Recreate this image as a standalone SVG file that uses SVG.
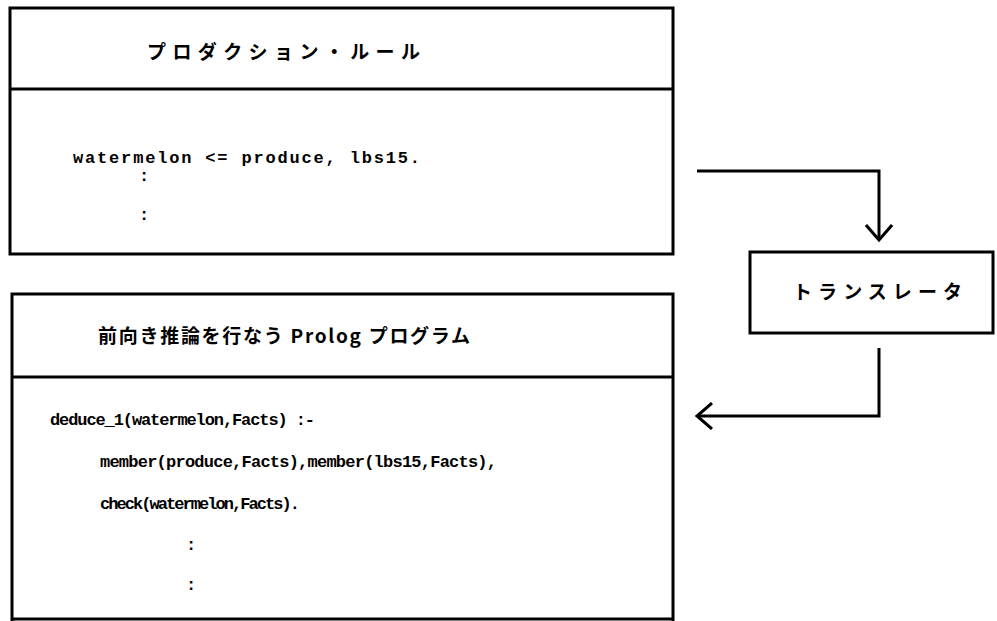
<svg xmlns="http://www.w3.org/2000/svg" width="997" height="621" viewBox="0 0 997 621">
<style>
.box{fill:none;stroke:#000;stroke-width:3}
.ln{fill:none;stroke:#000;stroke-width:3}
.jp{font-family:"Noto Sans CJK JP","Liberation Sans",sans-serif;font-size:19px;font-weight:bold;fill:#000}
.code{font-family:"Liberation Mono","DejaVu Sans Mono",monospace;font-size:17px;font-weight:bold;fill:#000}
</style>
<defs>
<marker id="open" viewBox="0 0 20 28" refX="17" refY="14" markerWidth="20" markerHeight="28" markerUnits="userSpaceOnUse" orient="auto">
<path d="M2,1 L17,14 L2,27" fill="none" stroke="#000" stroke-width="3"/>
</marker>
</defs>
<rect width="997" height="621" fill="#fff"/>
<g id="production-rules">
<rect class="box" x="10" y="8" width="663" height="246"/>
<line class="ln" x1="10" y1="89" x2="673" y2="89"/>
<text class="jp" x="147" y="59" textLength="273" lengthAdjust="spacing">プロダクション・ルール</text>
<text class="code" x="73" y="163" textLength="347" lengthAdjust="spacing">watermelon &lt;= produce, lbs15.</text>
<text class="code" x="139" y="181">:</text>
<text class="code" x="139" y="220">:</text>
</g>
<g id="translator">
<rect class="box" x="750" y="252" width="243" height="81"/>
<text class="jp" x="793" y="299" textLength="169" lengthAdjust="spacing">トランスレータ</text>
</g>
<g id="prolog-program">
<path class="box" d="M12,621 L12,294 L673,294 L673,621"/>
<line class="ln" x1="12" y1="377" x2="673" y2="377"/>
<line class="ln" x1="12" y1="619" x2="673" y2="619"/>
<text class="jp" x="98" y="343" textLength="372" lengthAdjust="spacing">前向き推論を行なう Prolog プログラム</text>
<text class="code" x="50" y="425" textLength="265" lengthAdjust="spacing">deduce_1(watermelon,Facts) :-</text>
<text class="code" x="100" y="467" textLength="397" lengthAdjust="spacing">member(produce,Facts),member(lbs15,Facts),</text>
<text class="code" x="100" y="509" textLength="200" lengthAdjust="spacing">check(watermelon,Facts).</text>
<text class="code" x="186" y="550">:</text>
<text class="code" x="186" y="590">:</text>
</g>
<g id="connectors">
<path class="ln" d="M697,171 L879,171 L879,240" marker-end="url(#open)"/>
<path class="ln" d="M879,348 L879,416 L697,416" marker-end="url(#open)"/>
</g>
</svg>
